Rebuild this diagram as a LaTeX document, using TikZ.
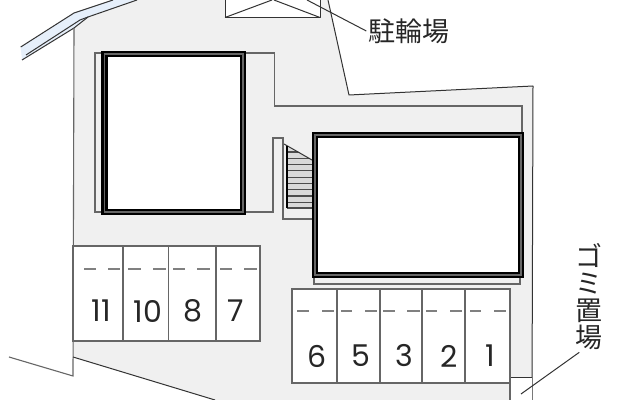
\documentclass[tikz,border=0pt]{standalone}
\usepackage{fontspec}
\newfontfamily\cjk{Noto Sans CJK JP}
\newfontfamily\numfont{Poppins}
\definecolor{groundgray}{HTML}{F0F0F0}
\definecolor{roadblue}{HTML}{E6EFFA}
\tikzset{
  thinline/.style={draw=black!80,line width=1bp},
  grayline/.style={draw=black!60,line width=1.1bp,line join=miter},
  dashline/.style={draw=black!50,line width=1.2bp},
  wallblack/.style={draw=black,line width=6.6bp,line join=miter,fill=white},
  wallgray/.style={draw=black!60,line width=1.4bp,line join=miter},
  numlabel/.style={font=\numfont\fontsize{30bp}{30bp}\selectfont,text=black!85,inner sep=0pt},
  jplabel/.style={font=\cjk\fontsize{27bp}{27bp}\selectfont,text=black!85,inner sep=2bp},
}
\begin{document}
\begin{tikzpicture}[>=latex,line join=bevel,]
    %%
    \useasboundingbox (0bp,0bp) rectangle (640bp,400bp);
    \fill [white] (0bp,0bp) rectangle (640bp,400bp);
    % ground and road
    \fill [groundgray] (74bp,372bp) -- (88bp,383bp) -- (137bp,400bp) -- (328bp,400bp) -- (349bp,305bp) -- (533bp,314bp) -- (532bp,0bp) -- (215bp,0bp) -- (73bp,43bp) -- cycle;
    \fill [roadblue] (20.7bp,353bp) -- (74bp,387bp) -- (113bp,400bp) -- (137bp,400bp) -- (88bp,383bp) -- (74bp,372bp) -- (22bp,340bp) -- cycle;
    \draw [thinline] (20.7bp,353bp) -- (74bp,387bp) -- (113bp,400bp);
    \draw [thinline] (26bp,345bp) -- (80bp,380bp) -- (88bp,383bp);
    \draw [thinline] (22bp,340bp) -- (74bp,372bp) -- (88bp,383bp) -- (137bp,400bp);
    \draw [grayline] (74bp,372bp) -- (73bp,24bp) -- (9bp,43bp);
    \draw [thinline] (73bp,43bp) -- (215bp,0bp);
    \draw [thinline] (328bp,400bp) -- (349bp,305bp) -- (533bp,314bp) -- (532bp,0bp);
    % bicycle shed
    \fill [white] (225bp,400bp) rectangle (320bp,382.5bp);
    \draw [thinline] (225bp,400bp) -- (225bp,382.5bp) -- (320bp,382.5bp) -- (320bp,400bp);
    \draw [thinline] (225bp,382.5bp) -- (272bp,400bp);
    \draw [thinline] (320bp,382.5bp) -- (274bp,400bp);
    % garbage box
    \fill [white] (510bp,22bp) rectangle (532bp,0bp);
    \draw [grayline] (510bp,111bp) -- (510bp,0bp);
    \draw [thinline] (510bp,22bp) -- (532bp,22bp);
    % thin outline round the buildings
    \draw [grayline] (101bp,347bp) -- (95bp,347bp) -- (95bp,188bp) -- (101bp,188bp);
    \draw [grayline] (246bp,347bp) -- (274.5bp,347bp) -- (274.5bp,294bp) -- (522bp,294bp) -- (522bp,267bp);
    \draw [grayline] (246bp,188bp) -- (273bp,188bp) -- (273bp,262bp) -- (283bp,262bp) -- (283bp,181bp) -- (312bp,181bp);
    \draw [grayline] (314bp,123bp) -- (314bp,116bp) -- (520bp,116bp) -- (520bp,123bp);
    % stairs
    \fill [black!15] (287bp,253bp) -- (312bp,240bp) -- (312bp,192bp) -- (287bp,192bp) -- cycle;
    \draw [draw=black!70,line width=1.2bp] (287bp,248.0bp) -- (312bp,248.0bp) (287bp,241.7bp) -- (312bp,241.7bp) (287bp,235.4bp) -- (312bp,235.4bp) (287bp,229.1bp) -- (312bp,229.1bp) (287bp,222.8bp) -- (312bp,222.8bp) (287bp,216.5bp) -- (312bp,216.5bp) (287bp,210.2bp) -- (312bp,210.2bp) (287bp,203.9bp) -- (312bp,203.9bp) (287bp,197.6bp) -- (312bp,197.6bp) (287bp,192bp) -- (312bp,192bp);
    \fill [groundgray] (286bp,256bp) -- (312bp,256bp) -- (312bp,240bp) -- cycle;
    \draw [thinline] (284bp,256bp) -- (312bp,240bp);
    \draw [black,line width=1.2bp] (287bp,254bp) -- (287bp,192bp);
    % buildings
    \draw [wallblack] (104.5bp,346bp) rectangle (243bp,188bp);
    \draw [wallgray] (104.5bp,346bp) rectangle (243bp,188bp);
    \draw [wallblack] (315bp,265bp) rectangle (521bp,125bp);
    \draw [wallgray] (315bp,265bp) rectangle (521bp,125bp);
    % parking left
    \draw [grayline,fill=white] (73bp,154bp) rectangle (260bp,59bp);
    \draw [grayline] (123bp,154bp) -- (123bp,59bp);
    \draw [grayline] (168.5bp,154bp) -- (168.5bp,59bp);
    \draw [grayline] (216bp,154bp) -- (216bp,59bp);
    \draw [dashline] (84bp,131bp) -- (96bp,131bp) (108bp,131bp) -- (120bp,131bp) (128bp,131bp) -- (141bp,131bp) (153bp,131bp) -- (166bp,131bp) (173bp,131bp) -- (185bp,131bp) (197bp,131bp) -- (210bp,131bp) (220bp,131bp) -- (232bp,131bp) (244bp,131bp) -- (257bp,131bp);
    % parking right
    \draw [grayline,fill=white] (292bp,111bp) rectangle (510bp,17bp);
    \draw [grayline] (337bp,111bp) -- (337bp,17bp);
    \draw [grayline] (380bp,111bp) -- (380bp,17bp);
    \draw [grayline] (422bp,111bp) -- (422bp,17bp);
    \draw [grayline] (465bp,111bp) -- (465bp,17bp);
    \draw [dashline] (297bp,89bp) -- (309bp,89bp) (322bp,89bp) -- (334bp,89bp) (341bp,89bp) -- (352bp,89bp) (365bp,89bp) -- (377bp,89bp) (383bp,89bp) -- (395bp,89bp) (407bp,89bp) -- (420bp,89bp) (426bp,89bp) -- (437bp,89bp) (450bp,89bp) -- (462bp,89bp) (470bp,89bp) -- (481bp,89bp) (494bp,89bp) -- (506bp,89bp);
    % numbers
    \node (n11) at (101.0bp,89.0bp) [numlabel] {11};
    \node (n10) at (148.0bp,89.0bp) [numlabel] {10};
    \node (n8) at (193.0bp,89.0bp) [numlabel] {8};
    \node (n7) at (236.0bp,89.0bp) [numlabel] {7};
    \node (n6) at (317.0bp,44.0bp) [numlabel] {6};
    \node (n5) at (361.0bp,44.0bp) [numlabel] {5};
    \node (n3) at (404.0bp,44.0bp) [numlabel] {3};
    \node (n2) at (449.0bp,44.0bp) [numlabel] {2};
    \node (n1) at (490.0bp,44.0bp) [numlabel] {1};
    % labels and leaders
    \node (bike) at (409.0bp,369.0bp) [jplabel] {駐輪場};
    \node (gomi) at (589.0bp,103.0bp) [jplabel,align=center] {ゴ\\ミ\\置\\場};
    \coordinate (bikeend) at (307bp,400bp);
    \coordinate (gomiend) at (521bp,6bp);
    \draw [thinline] (bike.west) -- (bikeend);
    \draw [thinline] (gomi.-100) -- (gomiend);
    %
\end{tikzpicture}
\end{document}
